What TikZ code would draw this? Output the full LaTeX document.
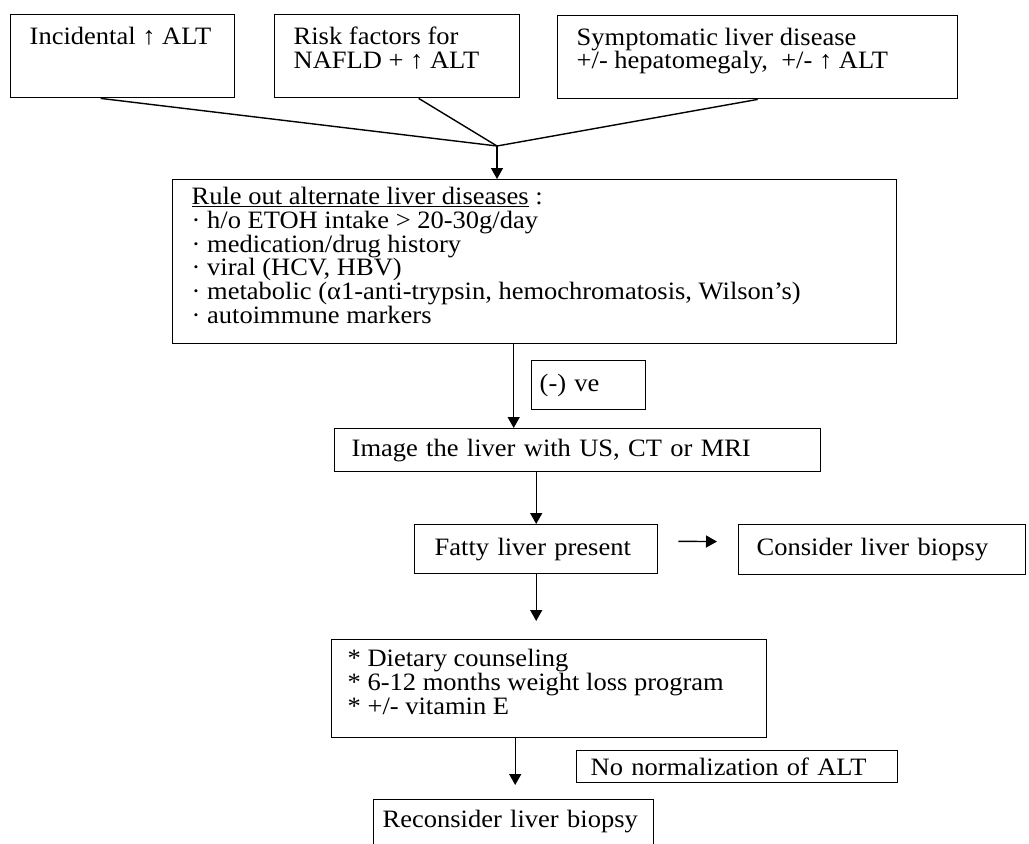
\documentclass[tikz,border=0pt]{standalone}
\usepackage{fontspec}
\setmainfont{Liberation Serif}[FakeStretch=1.06]
\usetikzlibrary{arrows.meta}

\begin{document}
\begin{tikzpicture}[x=1pt,y=-1pt,
		font=\fontsize{25}{23.8}\selectfont,
		box/.style={draw,line width=1.4pt,anchor=north west,inner xsep=18pt,inner ysep=0pt,align=left},
		arr/.style={line width=1.4pt,-{Triangle[length=11pt,width=12pt]}}]
	\useasboundingbox (0,0) rectangle (1029,844);
	\clip (0,0) rectangle (1029,844);
		% three ways in
		\node[box,inner xsep=19pt,inner ysep=12pt](inc) at (10,14) {\parbox[c][59pt][t]{186pt}{Incidental ↑ ALT}};
		\node[box,inner xsep=19pt,inner ysep=12pt](risk) at (274,14) {\parbox[c][59pt][t]{207pt}{Risk factors for\\NAFLD + ↑ ALT}};
		\node[box,inner xsep=19pt,inner ysep=12pt](symp) at (557,15) {\parbox[c][59pt][t]{362pt}{Symptomatic liver disease\\+/- hepatomegaly,~ +/- ↑ ALT}};
		\coordinate (J) at (497,146);
		\draw[line width=1.4pt] ([xshift=-22pt]inc.south) -- (J);
		\draw[line width=1.4pt] ([xshift=21.5pt]risk.south) -- (J);
		\draw[line width=1.4pt] (symp.south) -- (J);
		% work-up
		\node[box,inner xsep=19pt,inner ysep=7.5pt](rule) at (172,179) {\parbox[c][149pt][t]{686pt}{\underline{Rule out alternate liver diseases} :\\
			· h/o ETOH intake > 20-30g/day\\
			· medication/drug history\\
			· viral (HCV, HBV)\\
			· metabolic (α1-anti-trypsin, hemochromatosis, Wilson’s)\\
			· autoimmune markers}};
		\draw[arr] (J) -- (J |- rule.north);
		\node[box,inner xsep=8pt,text width=98pt,minimum height=49pt](neg) at (531,360) {(-) ve};
		\node[box,inner xsep=17pt,text width=452pt,minimum height=43pt](img) at (334,428) {Image the liver with US, CT or MRI};
		\draw[arr] ([xshift=-21pt]rule.south) -- ([xshift=-21pt]rule.south |- img.north);
		\node[box,inner xsep=20pt,text width=203pt,minimum height=49pt](fatty) at (414,524) {Fatty liver present};
		\node[box,inner xsep=18pt,text width=251pt,minimum height=50pt](cons) at (738,524) {Consider liver biopsy};
		\draw[arr] (img.south -| fatty.north) -- (fatty.north);
		\draw[arr,shorten <=20pt,shorten >=21pt] ([yshift=8pt]fatty.east) -- ([yshift=8pt]cons.west);
		% treatment
		\node[box,inner xsep=16pt,inner ysep=9.5pt](diet) at (331,639) {\parbox[c][79pt][t]{403pt}{{*} Dietary counseling\\
			{*} 6-12 months weight loss program\\
			{*} +/- vitamin E}};
		\draw[arr,shorten >=18pt] (fatty.south) -- (fatty.south |- diet.north);
		\node[box,inner xsep=14pt,text width=293pt,minimum height=32pt](nonorm) at (576,750) {No normalization of ALT};
		\node[box,inner xsep=9pt,text width=262pt,minimum height=60pt,text depth=22pt](recon) at (373,799) {Reconsider liver biopsy};
		\draw[arr,shorten >=14pt] ([xshift=-34pt]diet.south) -- ([xshift=-34pt]diet.south |- recon.north);
	\end{tikzpicture}
\end{document}
